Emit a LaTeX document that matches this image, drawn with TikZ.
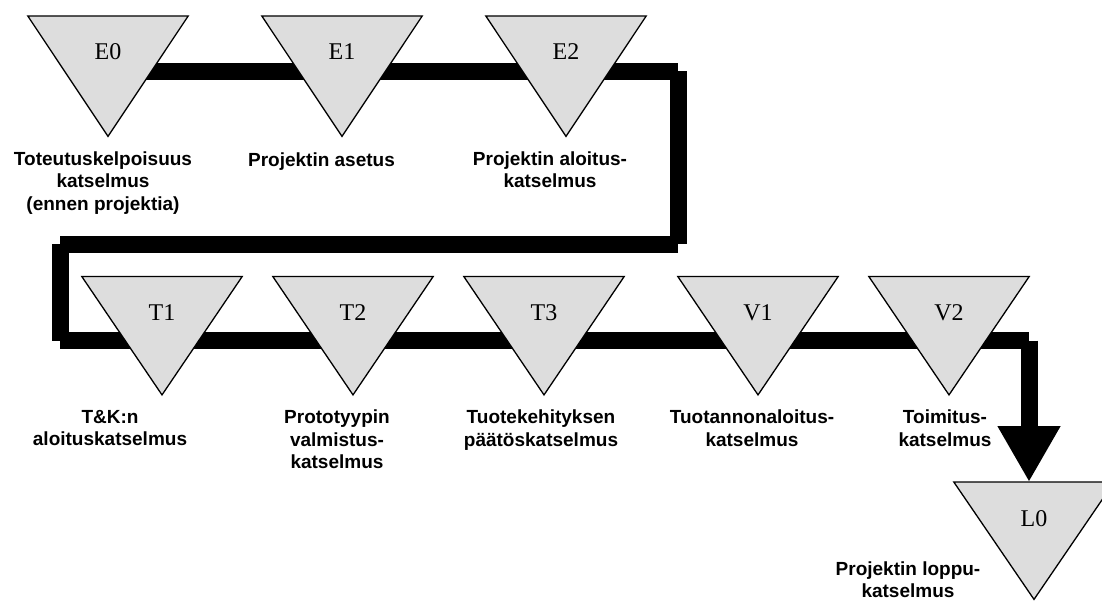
\documentclass[tikz,border=0pt]{standalone}
\usepackage{fontspec}
\setmainfont{Liberation Serif}
\newfontfamily\labelsans{Liberation Sans}
\usetikzlibrary{arrows.meta}
\pgfdeclarelayer{background}
\pgfsetlayers{background,main}
\definecolor{trifill}{RGB}{221,221,221}

\tikzset{
  tribox/.style={draw=none, inner sep=0pt, minimum width=160pt, minimum height=#1, anchor=north},
  tribox/.default=120pt,
  trishape/.style={fill=trifill, draw=black, line width=1.3pt, line join=miter},
  tricode/.style={font=\fontsize{24}{28}\selectfont, anchor=base, inner sep=0pt},
  caption/.style={font=\labelsans\bfseries\fontsize{19}{22.5}\selectfont,
    align=center, anchor=north, inner sep=0pt,
    execute at begin node={\rule{0pt}{15pt}}},
  pipe/.style={line width=17pt, line cap=butt, draw=black},
}

% milestone: name, centre x, top y, height, code
\newcommand\milestone[5]{%
  \node[tribox=#4] (#1) at (#2,#3) {};
  \filldraw[trishape] (#1.north west) -- (#1.north east) -- (#1.south) -- cycle;
  \node[tricode] (#1-code) at ([yshift=-44pt]#1.north) {#5};
}

\begin{document}
\begin{tikzpicture}[x=1pt, y=-1pt]
  \useasboundingbox (0,0) rectangle (1102,601);
  \clip (0,0) rectangle (1102,601);

  % review milestones
  \milestone{E0}{108}{16}{120pt}{E0}
  \milestone{E1}{342}{16}{120pt}{E1}
  \milestone{E2}{566}{16}{120pt}{E2}
  \milestone{T1}{162}{276.5}{118pt}{T1}
  \milestone{T2}{353}{276.5}{118pt}{T2}
  \milestone{T3}{544}{276.5}{118pt}{T3}
  \milestone{V1}{758}{276.5}{118pt}{V1}
  \milestone{V2}{949}{276.5}{118pt}{V2}
  \milestone{L0}{1034}{482}{117pt}{L0}

  % captions
  \node[caption] (E0-cap) at (103,151.5) {Toteutuskelpoisuus\\katselmus\\(ennen projektia)};
  \node[caption] (E1-cap) at (321.5,151.5) {Projektin asetus};
  \node[caption] (E2-cap) at (550,151.5) {Projektin aloitus-\\katselmus};
  \node[caption] (T1-cap) at (110,410) {T\&K:n\\aloituskatselmus};
  \node[caption] (T2-cap) at (337,410) {Prototyypin\\valmistus-\\katselmus};
  \node[caption] (T3-cap) at (541,410) {Tuotekehityksen\\päätöskatselmus};
  \node[caption] (V1-cap) at (752,410) {Tuotannonaloitus-\\katselmus};
  \node[caption] (V2-cap) at (945,410) {Toimitus-\\katselmus};
  \node[caption] (L0-cap) at (908,561.5) {Projektin loppu-\\katselmus};

  % bends of the process line
  \coordinate (c1) at (678,71.5);
  \coordinate (c2) at (678,244.5);
  \coordinate (c3) at (60,244.5);
  \coordinate (c4) at (60,340.5);
  \coordinate (c5) at (1029,340.5);

  % process line behind the milestones, drawn as butt-ended segments
  \begin{pgfonlayer}{background}
    \draw[pipe] (E0.center |- c1) -- (c1);
    \draw[pipe] (c1) -- (c2);
    \draw[pipe] (c2) -- (c3);
    \draw[pipe] (c3) -- (c4);
    \draw[pipe] (c4) -- (c5);
    \draw[pipe, -{Triangle[length=56pt, width=59pt]}] (c5) -- (c5 |- L0.north);
  \end{pgfonlayer}
\end{tikzpicture}
\end{document}
